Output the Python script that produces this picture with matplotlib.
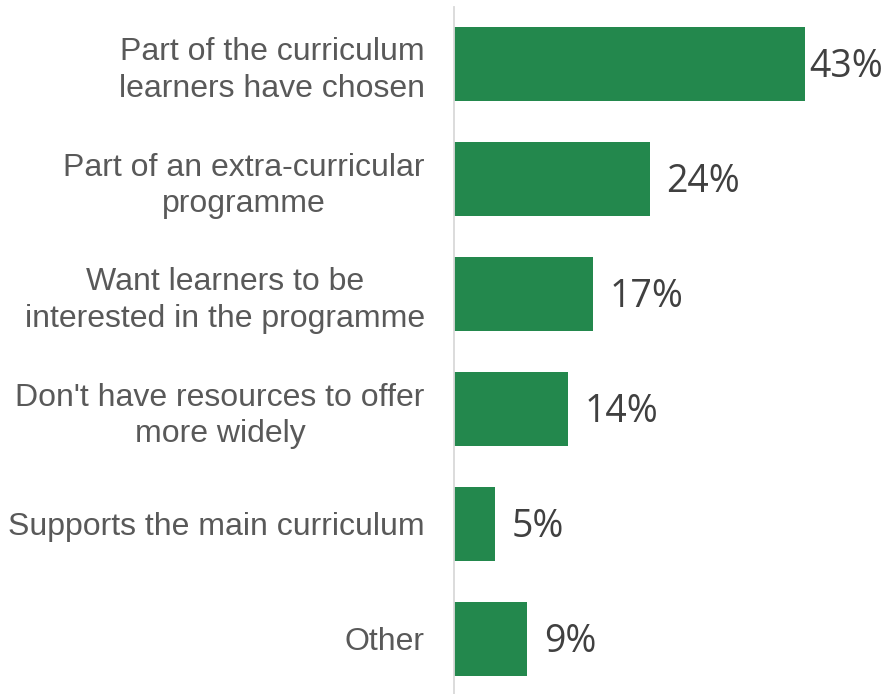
import matplotlib.pyplot as plt
import numpy as np

categories = [
    "Part of the curriculum\nlearners have chosen",
    "Part of an extra-curricular\nprogramme",
    "Want learners to be\ninterested in the programme",
    "Don't have resources to offer\nmore widely",
    "Supports the main curriculum",
    "Other",
]
values = [43, 24, 17, 14, 5, 9]
value_labels = ["43%", "24%", "17%", "14%", "5%", "9%"]

W, H = 886, 694
fig = plt.figure(figsize=(W / 100, H / 100), dpi=100)
# axes spans from the thin grey axis line to the right, a bit past the bottom
ax = fig.add_axes([454 / W, -2.5 / H, 408 / W, 690 / H])

y = np.arange(len(categories))
ax.barh(y, values, height=0.65, color="#23884D", zorder=2)
ax.set_xlim(0, 50)
ax.set_ylim(len(categories) - 0.5, -0.5)

ax.set_yticks(y)
ax.set_yticklabels(categories, family="Liberation Sans", fontsize=23,
                   color="#595959", multialignment="center", linespacing=1.27)
ax.tick_params(axis="y", length=0, pad=21)
ax.set_xticks([])

for s in ["top", "right", "bottom"]:
    ax.spines[s].set_visible(False)
ax.spines["left"].set_color("#D9D9D9")
ax.spines["left"].set_linewidth(1.3)

fig.canvas.draw()
renderer = fig.canvas.get_renderer()
right_px = W - 3
dx, dy = 12, -2
for yi, v, lab in zip(y, values, value_labels):
    t = ax.annotate(lab, (v, yi), xytext=(dx, dy), textcoords="offset points",
                    ha="left", va="center", fontsize=27, family="Open Sans",
                    color="#404040")
    bb = t.get_window_extent(renderer)
    if bb.x1 > right_px:
        # not enough room: pull the label back inside the figure
        shift = (bb.x1 - right_px) * 72 / fig.dpi
        t.set_position((dx - shift, dy))

fig.savefig("out.png", dpi=100)
